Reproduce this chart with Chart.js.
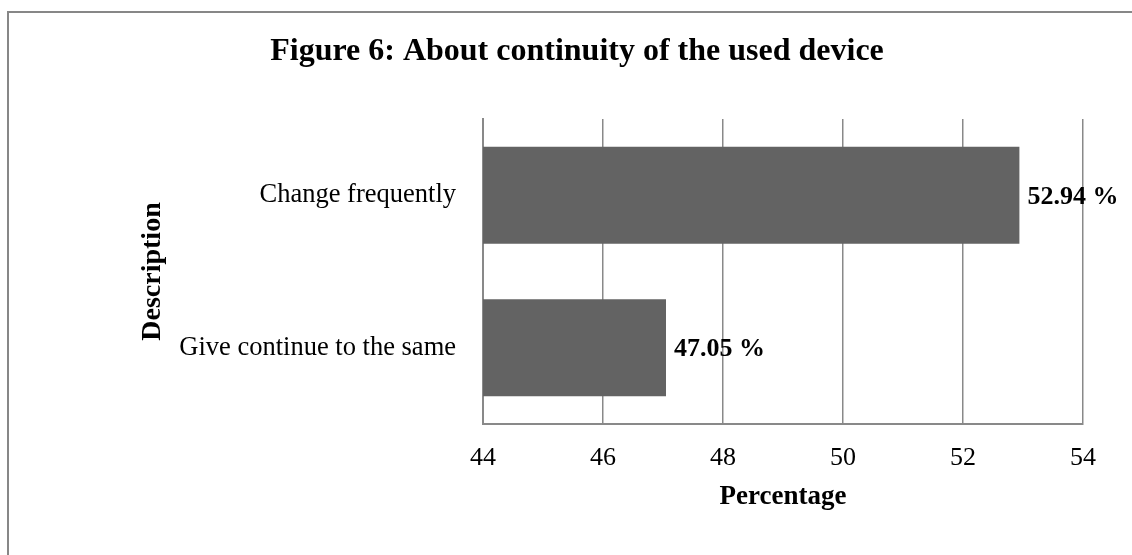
<!DOCTYPE html>
<html>
<head>
<meta charset="utf-8">
<title>Figure 6: About continuity of the used device</title>
<script src="https://cdn.jsdelivr.net/npm/chart.js@4.4.1/dist/chart.umd.min.js"></script>
<style>
  html, body { margin: 0; padding: 0; background: #fff; overflow: hidden; }
  #wrap { position: relative; width: 1132px; height: 555px; }
  #frame {
    position: absolute; left: 7px; top: 11px;
    width: 1200px; height: 600px;
    border: 2px solid #878787;
    pointer-events: none;
  }
  canvas { position: absolute; left: 0; top: 0; }
</style>
</head>
<body>
<div id="wrap">
  <div id="frame"></div>
  <canvas id="chart" width="1132" height="555"></canvas>
</div>
<script>
const categories = ['Change frequently', 'Give continue to the same'];
const percentages = [52.94, 47.05];
const xMin = 44;
const xMax = 54;
const xStep = 2;

const serif = "'Liberation Serif', 'Times New Roman', Times, serif";
const gridGray = '#898989';

Chart.defaults.font.family = serif;
Chart.defaults.color = '#000';

// writes "52.94 %" next to each bar end
const barValueLabels = {
  id: 'barValueLabels',
  afterDatasetsDraw(chart) {
    const ctx = chart.ctx;
    const meta = chart.getDatasetMeta(0);
    ctx.save();
    ctx.font = 'bold 26px ' + serif;
    ctx.fillStyle = '#000';
    ctx.textAlign = 'left';
    ctx.textBaseline = 'middle';
    meta.data.forEach((bar, i) => {
      ctx.fillText(percentages[i].toFixed(2) + ' %', bar.x + 8, bar.y + 2);
    });
    ctx.restore();
  }
};

new Chart(document.getElementById('chart'), {
  type: 'bar',
  data: {
    labels: categories,
    datasets: [{
      data: percentages,
      backgroundColor: '#636363',
      borderWidth: 0,
      categoryPercentage: 1,
      barPercentage: 0.636
    }]
  },
  options: {
    indexAxis: 'y',
    responsive: false,
    animation: false,
    layout: { padding: { left: 71, right: 49, top: 12, bottom: 30 } },
    plugins: {
      legend: { display: false },
      tooltip: { enabled: false },
      title: {
        display: true,
        text: 'Figure 6: About continuity of the used device',
        font: { size: 32, weight: 'bold' },
        color: '#000',
        padding: { top: 21, bottom: 47.6 }
      }
    },
    scales: {
      x: {
        min: xMin,
        max: xMax,
        ticks: { stepSize: xStep, font: { size: 26 }, color: '#000', padding: 19 },
        grid: { color: gridGray, lineWidth: 1.5, drawTicks: false },
        border: { display: true, color: gridGray, width: 2 },
        title: {
          display: true,
          text: 'Percentage',
          font: { size: 27, weight: 'bold' },
          color: '#000',
          padding: { top: 0, bottom: 12 }
        },
        afterFit(scale) { scale.height = 101; }
      },
      y: {
        ticks: { font: { size: 26.5 }, color: '#000', padding: 27 },
        grid: { display: false, drawTicks: false },
        border: { display: true, color: gridGray, width: 2 },
        title: {
          display: true,
          text: 'Description',
          font: { size: 28, weight: 'bold' },
          color: '#000',
          padding: { top: 65, bottom: 0 }
        },
        afterFit(scale) { scale.width = 412; }
      }
    }
  },
  plugins: [barValueLabels]
});
</script>
</body>
</html>
